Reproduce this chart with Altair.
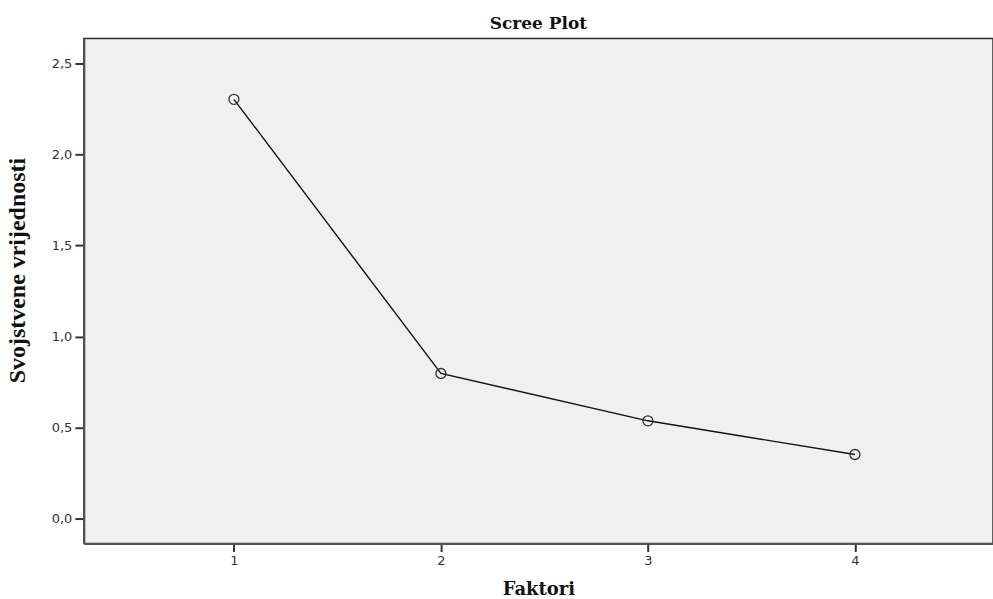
import altair as alt
import pandas as pd

factors = [1, 2, 3, 4]
eigenvalues = [2.303, 0.797, 0.537, 0.352]

df = pd.DataFrame({"Faktori": factors, "Vrijednost": eigenvalues})

x = alt.X("Faktori:Q",
          scale=alt.Scale(domain=[0.275, 4.667], nice=False, zero=False),
          axis=alt.Axis(title="Faktori", values=[1, 2, 3, 4], format="d",
                        grid=False, tickSize=8, tickWidth=2, tickColor="#333",
                        domainColor="#555", domainWidth=2,
                        labelFont="DejaVu Sans", labelFontSize=13, labelColor="#333",
                        labelPadding=3,
                        titleFont="DejaVu Serif", titleFontSize=18, titleFontWeight="bold",
                        titleColor="#111", titlePadding=13))
y = alt.Y("Vrijednost:Q",
          scale=alt.Scale(domain=[-0.137, 2.637], nice=False, zero=False),
          axis=alt.Axis(title="Svojstvene vrijednosti", values=[0, 0.5, 1.0, 1.5, 2.0, 2.5],
                        format=".1f", grid=False, tickSize=9, tickWidth=2, tickColor="#333",
                        domainColor="#555", domainWidth=2,
                        labelFont="DejaVu Sans", labelFontSize=13, labelColor="#333",
                        labelPadding=3,
                        titleFont="Liberation Serif", titleFontSize=24, titleFontWeight="bold",
                        titleColor="#111", titleX=-66, titleY=232, titleAngle=270,
                        titleAlign="center", titleBaseline="middle"))

line = alt.Chart(df).mark_line(color="#111", strokeWidth=1.4).encode(x=x, y=y)
points = alt.Chart(df).mark_point(shape="circle", filled=False, size=100,
                                  color="#333", strokeWidth=1.3, opacity=1).encode(x=x, y=y)

chart = (line + points).properties(
    width=911, height=506,
    title=alt.TitleParams("Scree Plot", font="DejaVu Serif", fontSize=17,
                          fontWeight="bold", color="#111", offset=6),
    autosize=alt.AutoSizeParams(type="none"),
    padding={"left": 84, "top": 38, "right": 0, "bottom": 55},
).configure(
    locale={"number": {"decimal": ",", "thousands": ".", "grouping": [3], "currency": ["", " €"]}},
    view={"fill": "#F0F0F0", "stroke": "#333", "strokeWidth": 1.5},
)

chart.save("out.html", embed_options={"renderer": "svg", "actions": False})
